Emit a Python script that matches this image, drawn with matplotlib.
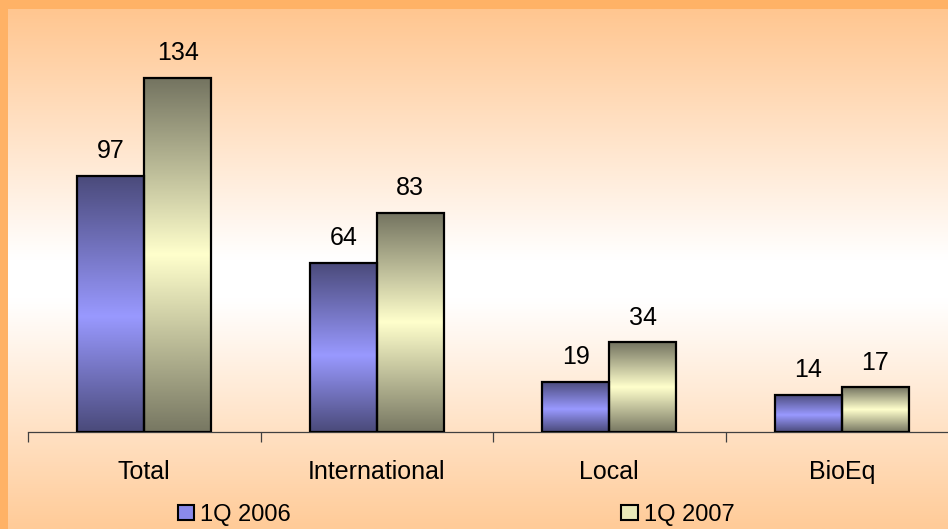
import numpy as np
import matplotlib
matplotlib.use('Agg')
import matplotlib.pyplot as plt
from matplotlib.colors import LinearSegmentedColormap
from matplotlib.patches import Rectangle

plt.rcParams['font.family'] = ['Liberation Sans', 'DejaVu Sans']

categories = ['Total', 'International', 'Local', 'BioEq']
q1_2006 = [97, 64, 19, 14]
q1_2007 = [134, 83, 34, 17]
series_names = ['1Q 2006', '1Q 2007']

W, H = 948, 529
fig = plt.figure(figsize=(W / 100, H / 100), dpi=100)

# page background: orange frame and a peach-white-peach vertical wash
bg = fig.add_axes([0, 0, 1, 1])
bg.set_xlim(0, W)
bg.set_ylim(H, 0)
bg.axis('off')
wash = LinearSegmentedColormap.from_list(
    'wash', [(0.0, '#FFC690'), (0.48, '#FFFFFF'), (0.56, '#FFFFFF'), (1.0, '#FFCB98')])
bg.imshow(np.linspace(0, 1, 256).reshape(-1, 1), cmap=wash, aspect='auto',
          extent=[0, W, H, 9], zorder=0)
bg.add_patch(Rectangle((0, 0), W, 9, color='#FFB266', lw=0, zorder=1))
bg.add_patch(Rectangle((0, 0), 8, H, color='#FFB266', lw=0, zorder=1))

# plot area
left, right, top, base = 28, 948, 9, 432
cat_w = 232.5
ax = fig.add_axes([left / W, (H - base) / H, (right - left) / W, (base - top) / H])
ax.patch.set_alpha(0)

blue_map = LinearSegmentedColormap.from_list(
    'blue', [(0.0, '#4A4A7A'), (0.55, '#9999FF'), (1.0, '#4A4A7A')])
olive_map = LinearSegmentedColormap.from_list(
    'olive', [(0.0, '#737360'), (0.5, '#FFFFCC'), (1.0, '#777762')])

x = np.arange(len(categories))
bw = 0.288
grad = np.linspace(0, 1, 256).reshape(-1, 1)

for vals, offset, cmap in [(q1_2006, -bw / 2, blue_map), (q1_2007, bw / 2, olive_map)]:
    bars = ax.bar(x + offset, vals, bw, facecolor='none', edgecolor='black',
                  linewidth=1.6, zorder=3)
    for b, v in zip(bars, vals):
        x0 = b.get_x()
        ax.imshow(grad, cmap=cmap, aspect='auto', zorder=2,
                  extent=[x0, x0 + bw, 0, v], origin='upper')
        ax.annotate(str(v), (x0 + bw / 2, v), xytext=(0, 9),
                    textcoords='offset points', ha='center', va='bottom',
                    fontsize=18)

ax.set_xlim(-0.5, -0.5 + (right - left) / cat_w)
ax.set_ylim(0, 160)

for s in ['top', 'right', 'left']:
    ax.spines[s].set_visible(False)
ax.spines['bottom'].set_color('#404040')
ax.spines['bottom'].set_linewidth(0.9)
ax.set_yticks([])
ax.set_xticks(x)
ax.set_xticklabels(categories, fontsize=18)
ax.tick_params(axis='x', which='major', length=0, pad=20)
ax.set_xticks(np.arange(len(categories)) - 0.5, minor=True)
ax.tick_params(axis='x', which='minor', length=7.5, width=0.9,
               color='#404040', direction='out')

handles = [Rectangle((0, 0), 1, 1, facecolor='#8A8AEA', edgecolor='black', lw=1.5),
           Rectangle((0, 0), 1, 1, facecolor='#E8E8B8', edgecolor='black', lw=1.5)]
fig.legend(handles, series_names, loc='center', ncol=2,
           bbox_to_anchor=(456 / W, 1 - 515 / H), frameon=False,
           fontsize=17, handlelength=0.7, handleheight=0.6,
           handletextpad=0.25, columnspacing=14)

fig.savefig('out.png', dpi=100)
